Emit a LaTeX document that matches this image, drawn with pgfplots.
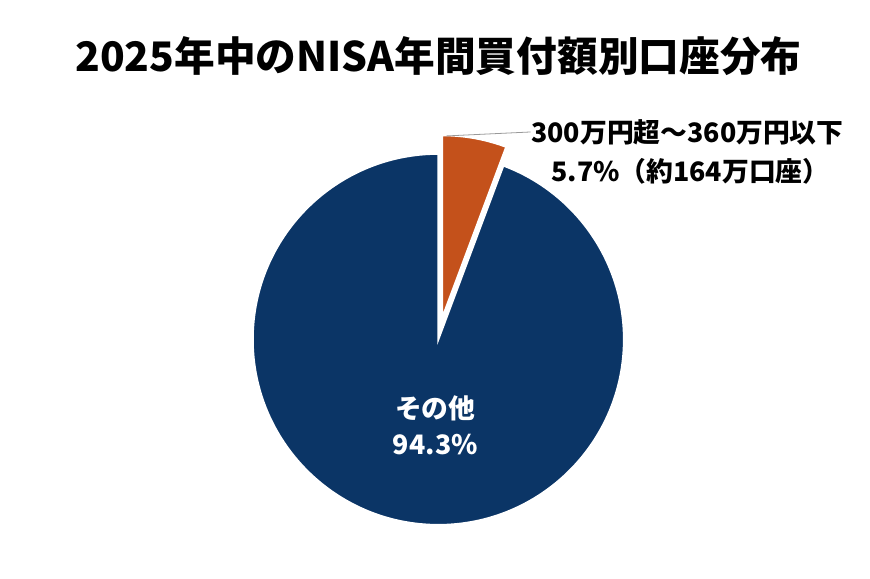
\documentclass[border=0pt]{standalone}
\usepackage{pgfplots}
\pgfplotsset{compat=1.18}
\usepackage{pgfplotstable}
\usepackage{fontspec}
\setmainfont{Noto Sans CJK JP}

\definecolor{piNavy}{HTML}{0B3566}
\definecolor{piRust}{HTML}{C4511B}

% share of accounts (%)
\pgfplotstableread{
label share
other 94.3
band  5.7
}\pieshares

\begin{document}
\pgfplotstablegetelem{0}{share}\of\pieshares \let\shareother\pgfplotsretval
\pgfplotstablegetelem{1}{share}\of\pieshares \let\shareband\pgfplotsretval
\pgfmathsetmacro\bandend{90-3.6*\shareband}
\pgfmathsetmacro\otherend{90+3.6*\shareother}
\pgfmathsetmacro\bandmid{90-1.8*\shareband}

\begin{tikzpicture}
\path[use as bounding box] (0,0) rectangle (870pt,583pt);
\begin{axis}[
    at={(0,0)}, anchor=south west,
    scale only axis,
    x=1pt, y=1pt,
    xmin=0, xmax=870, ymin=0, ymax=583,
    hide axis, clip=false,
]
% slice: other
\fill[piNavy, draw=white, line width=2pt]
    (axis cs:435,241) -- ++(90:187pt)
    arc[start angle=90, end angle=\otherend, radius=187pt] -- cycle;
% slice: 300-360 (exploded)
\fill[piRust, draw=white, line width=2pt]
    (axis cs:435,241) ++(\bandmid:22pt) -- ++(90:184pt)
    arc[start angle=90, end angle=\bandend, radius=184pt] -- cycle;

\draw[black!40, line width=0.8pt] (axis cs:443,446) -- (axis cs:528,450);

\node[font=\fontsize{41}{41}\selectfont\bfseries] at (axis cs:435,526)
    {2025年中のNISA年間買付額別口座分布};
\node[font=\fontsize{27}{27}\selectfont\bfseries] at (axis cs:686,450)
    {300万円超〜360万円以下};
\node[font=\fontsize{27}{27}\selectfont\bfseries] at (axis cs:689,410)
    {\shareband\%（約164万口座）};
\node[white, font=\fontsize{27}{27}\selectfont\bfseries] at (axis cs:432,171)
    {その他};
\node[white, font=\fontsize{27}{27}\selectfont\bfseries] at (axis cs:432,135)
    {\shareother\%};
\end{axis}
\end{tikzpicture}
\end{document}
